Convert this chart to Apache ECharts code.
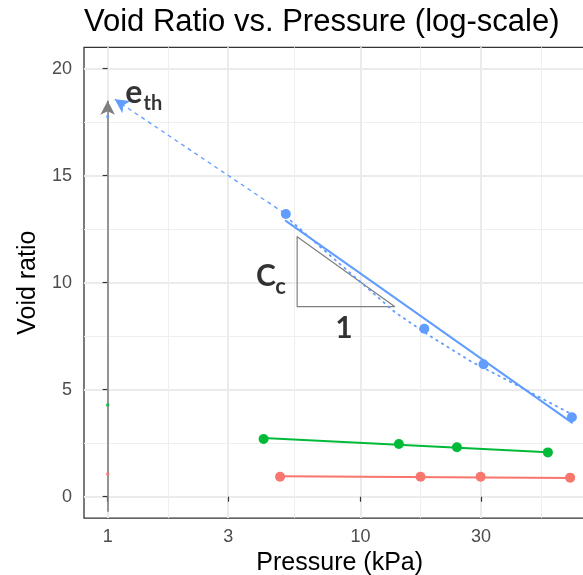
<!DOCTYPE html>
<html>
<head>
<meta charset="utf-8">
<script src="https://cdn.jsdelivr.net/npm/echarts@6/dist/echarts.min.js"></script>
<style>
html, body { margin: 0; padding: 0; background: #ffffff; }
#chart { width: 583px; height: 575px; }
</style>
</head>
<body>
<div id="chart"></div>
<script>
// ---------------- data ----------------
const chartTitle = 'Void Ratio vs. Pressure (log-scale)';
const xAxisTitle = 'Pressure (kPa)';
const yAxisTitle = 'Void ratio';

const xTickValues = [1, 3, 10, 30];
const xTickLabels = ['1', '3', '10', '30'];
const xMinorGridValues = [1.732, 5.477, 17.32, 51.96];
const xLimits = [0.806, 85.1];

const yTickValues = [0, 5, 10, 15, 20];
const yTickLabels = ['0', '5', '10', '15', '20'];
const yMinorGridValues = [2.5, 7.5, 12.5, 17.5];
const yLimits = [-1, 21];

// measured points
const redPressure = [4.81, 17.3, 29.9, 67.6];
const redVoid = [0.93, 0.93, 0.93, 0.89];
const greenPressure = [4.14, 14.2, 24.1, 55.2];
const greenVoid = [2.70, 2.46, 2.31, 2.07];
const bluePressure = [5.07, 17.9, 30.7, 68.7];
const blueVoid = [13.21, 7.85, 6.19, 3.71];

// fitted straight lines
const redFitPressure = [4.81, 67.6];
const redFitVoid = [0.95, 0.87];
const greenFitPressure = [4.14, 55.2];
const greenFitVoid = [2.74, 2.08];
const blueFitPressure = [5.07, 68.7];
const blueFitVoid = [12.89, 3.46];

// dotted blue trend
const blueTrendPressure = [5.07, 6.62, 13.7, 18.9, 27.5, 40.3, 57.5, 68.7];
const blueTrendVoid = [13.1, 11.89, 8.62, 7.50, 6.31, 5.30, 4.33, 3.85];

// values at p = 1
const startPressure = [1, 1, 1];
const startVoid = [1.06, 4.28, 17.76];

// arrows
const thresholdArrowPressure = [1, 1];
const thresholdArrowVoid = [-0.7, 18.5];
const ethArrowPressure = [1.067, 5.07];
const ethArrowVoid = [18.57, 13.2];

// slope triangle
const trianglePressure = [5.62, 5.62, 13.7, 5.62];
const triangleVoid = [12.15, 8.88, 8.88, 12.15];

// annotation texts
const annotationText = ['e', 'th', 'C', 'c', '1'];
const annotationPressure = [1.27, 1.51, 4.23, 4.83, 8.60];
const annotationVoid = [18.9, 18.38, 10.28, 9.79, 7.86];

// ---------------- chart ----------------
const RED = '#F8766D', GREEN = '#00BA38', BLUE = '#619CFF', GREY = '#7F7F7F';
const FONT = '"Liberation Sans", Arial, sans-serif';
const L = v => Math.log10(v);
const pairs = (xs, ys) => xs.map((x, i) => [L(x), ys[i]]);

const annotationFont = { 'e': 32, 'th': 20, 'C': 30, 'c': 22, '1': 30 };

const chart = echarts.init(document.getElementById('chart'), null, { renderer: 'canvas' });

function lineSeries(xs, ys, color, width, type) {
  return {
    type: 'line', data: pairs(xs, ys), symbol: 'none', silent: true,
    lineStyle: { color: color, width: width, type: type || 'solid', cap: 'round' },
    emphasis: { disabled: true }, z: 3
  };
}
function pointSeries(xs, ys, color, size) {
  return {
    type: 'scatter', data: pairs(xs, ys), symbol: 'circle', symbolSize: size, silent: true,
    itemStyle: { color: color, opacity: 1 }, emphasis: { disabled: true }, z: 5
  };
}
function arrowSeries(xs, ys, symbols, color, width, type) {
  return {
    type: 'line', data: [], silent: true,
    markLine: {
      silent: true, animation: false, symbol: symbols, symbolSize: [11, 14],
      label: { show: false }, emphasis: { disabled: true },
      lineStyle: { color: color, width: width, type: type, opacity: 1 },
      data: [[{ coord: [L(xs[0]), ys[0]] }, { coord: [L(xs[1]), ys[1]] }]]
    },
    z: 4
  };
}

const option = {
  animation: false,
  backgroundColor: '#ffffff',
  title: {
    text: chartTitle, left: 84, top: 7, padding: 0,
    textStyle: { fontSize: 31, fontWeight: 'normal', color: '#000000', fontFamily: FONT }
  },
  grid: {
    left: 84, top: 47.3, width: 511.4, height: 470.8,
    outerBoundsMode: 'none', containLabel: false,
    show: true, borderColor: '#333333', borderWidth: 1.3, backgroundColor: '#ffffff'
  },
  xAxis: [
    {
      type: 'value', min: L(xLimits[0]), max: L(xLimits[1]),
      axisLine: { show: false },
      axisTick: { show: true, length: 5, lineStyle: { color: '#333333', width: 1.2 }, customValues: xTickValues.map(L) },
      axisLabel: {
        customValues: xTickValues.map(L), margin: 10, fontSize: 18, color: '#4D4D4D', fontFamily: FONT,
        formatter: v => { const i = xTickValues.findIndex(t => Math.abs(L(t) - v) < 1e-6); return i >= 0 ? xTickLabels[i] : ''; }
      },
      splitLine: { show: true, lineStyle: { color: '#EBEBEB', width: 2 } },
      name: xAxisTitle, nameLocation: 'middle', nameGap: 33,
      nameTextStyle: { fontSize: 25, color: '#000000', fontFamily: FONT }
    },
    {
      type: 'value', min: L(xLimits[0]), max: L(xLimits[1]), position: 'bottom',
      axisLine: { show: false },
      axisTick: { show: false, customValues: xMinorGridValues.map(L) },
      axisLabel: { show: false, customValues: xMinorGridValues.map(L) },
      splitLine: { show: true, lineStyle: { color: '#EFEFEF', width: 1 } }
    }
  ],
  yAxis: [
    {
      type: 'value', min: yLimits[0], max: yLimits[1],
      axisLine: { show: false },
      axisTick: { show: true, length: 5, lineStyle: { color: '#333333', width: 1.2 }, customValues: yTickValues },
      axisLabel: {
        customValues: yTickValues, margin: 12, fontSize: 18, color: '#4D4D4D', fontFamily: FONT,
        formatter: v => { const i = yTickValues.indexOf(v); return i >= 0 ? yTickLabels[i] : ''; }
      },
      splitLine: { show: true, lineStyle: { color: '#EBEBEB', width: 2 } },
      name: yAxisTitle, nameLocation: 'middle', nameGap: 39, nameRotate: 90,
      nameTextStyle: { fontSize: 25, color: '#000000', fontFamily: FONT }
    },
    {
      type: 'value', min: yLimits[0], max: yLimits[1], position: 'left',
      axisLine: { show: false },
      axisTick: { show: false, customValues: yMinorGridValues },
      axisLabel: { show: false, customValues: yMinorGridValues },
      splitLine: { show: true, lineStyle: { color: '#EFEFEF', width: 1 } }
    }
  ],
  series: [
    arrowSeries(thresholdArrowPressure, thresholdArrowVoid, ['none', 'arrow'], GREY, 1.6, 'solid'),
    lineSeries(trianglePressure, triangleVoid, GREY, 1.2),
    lineSeries(redFitPressure, redFitVoid, RED, 2),
    lineSeries(greenFitPressure, greenFitVoid, GREEN, 2),
    lineSeries(blueTrendPressure, blueTrendVoid, BLUE, 1.8, [1.5, 5]),
    lineSeries(blueFitPressure, blueFitVoid, BLUE, 2),
    arrowSeries(ethArrowPressure, ethArrowVoid, ['arrow', 'none'], BLUE, 1.3, [4, 4]),
    pointSeries(redPressure, redVoid, RED, 10),
    pointSeries(greenPressure, greenVoid, GREEN, 10),
    pointSeries(bluePressure, blueVoid, BLUE, 10),
    {
      type: 'scatter', silent: true, symbol: 'circle', symbolSize: 3.5, z: 6,
      data: startPressure.map((p, i) => ({
        value: [L(p), startVoid[i]],
        itemStyle: { color: [RED, GREEN, BLUE][i] }
      })),
      emphasis: { disabled: true }
    },
    {
      type: 'scatter', silent: true, symbol: 'circle', symbolSize: 1, z: 7,
      itemStyle: { color: 'rgba(0,0,0,0)' },
      data: annotationText.map((t, i) => ({
        value: [L(annotationPressure[i]), annotationVoid[i]],
        label: {
          show: true, position: 'inside', formatter: t,
          fontSize: annotationFont[t], fontWeight: 'bold', color: '#000000',
          fontFamily: 'Lato, "Open Sans", sans-serif'
        }
      })),
      emphasis: { disabled: true }
    }
  ]
};
chart.setOption(option);
</script>
</body>
</html>
